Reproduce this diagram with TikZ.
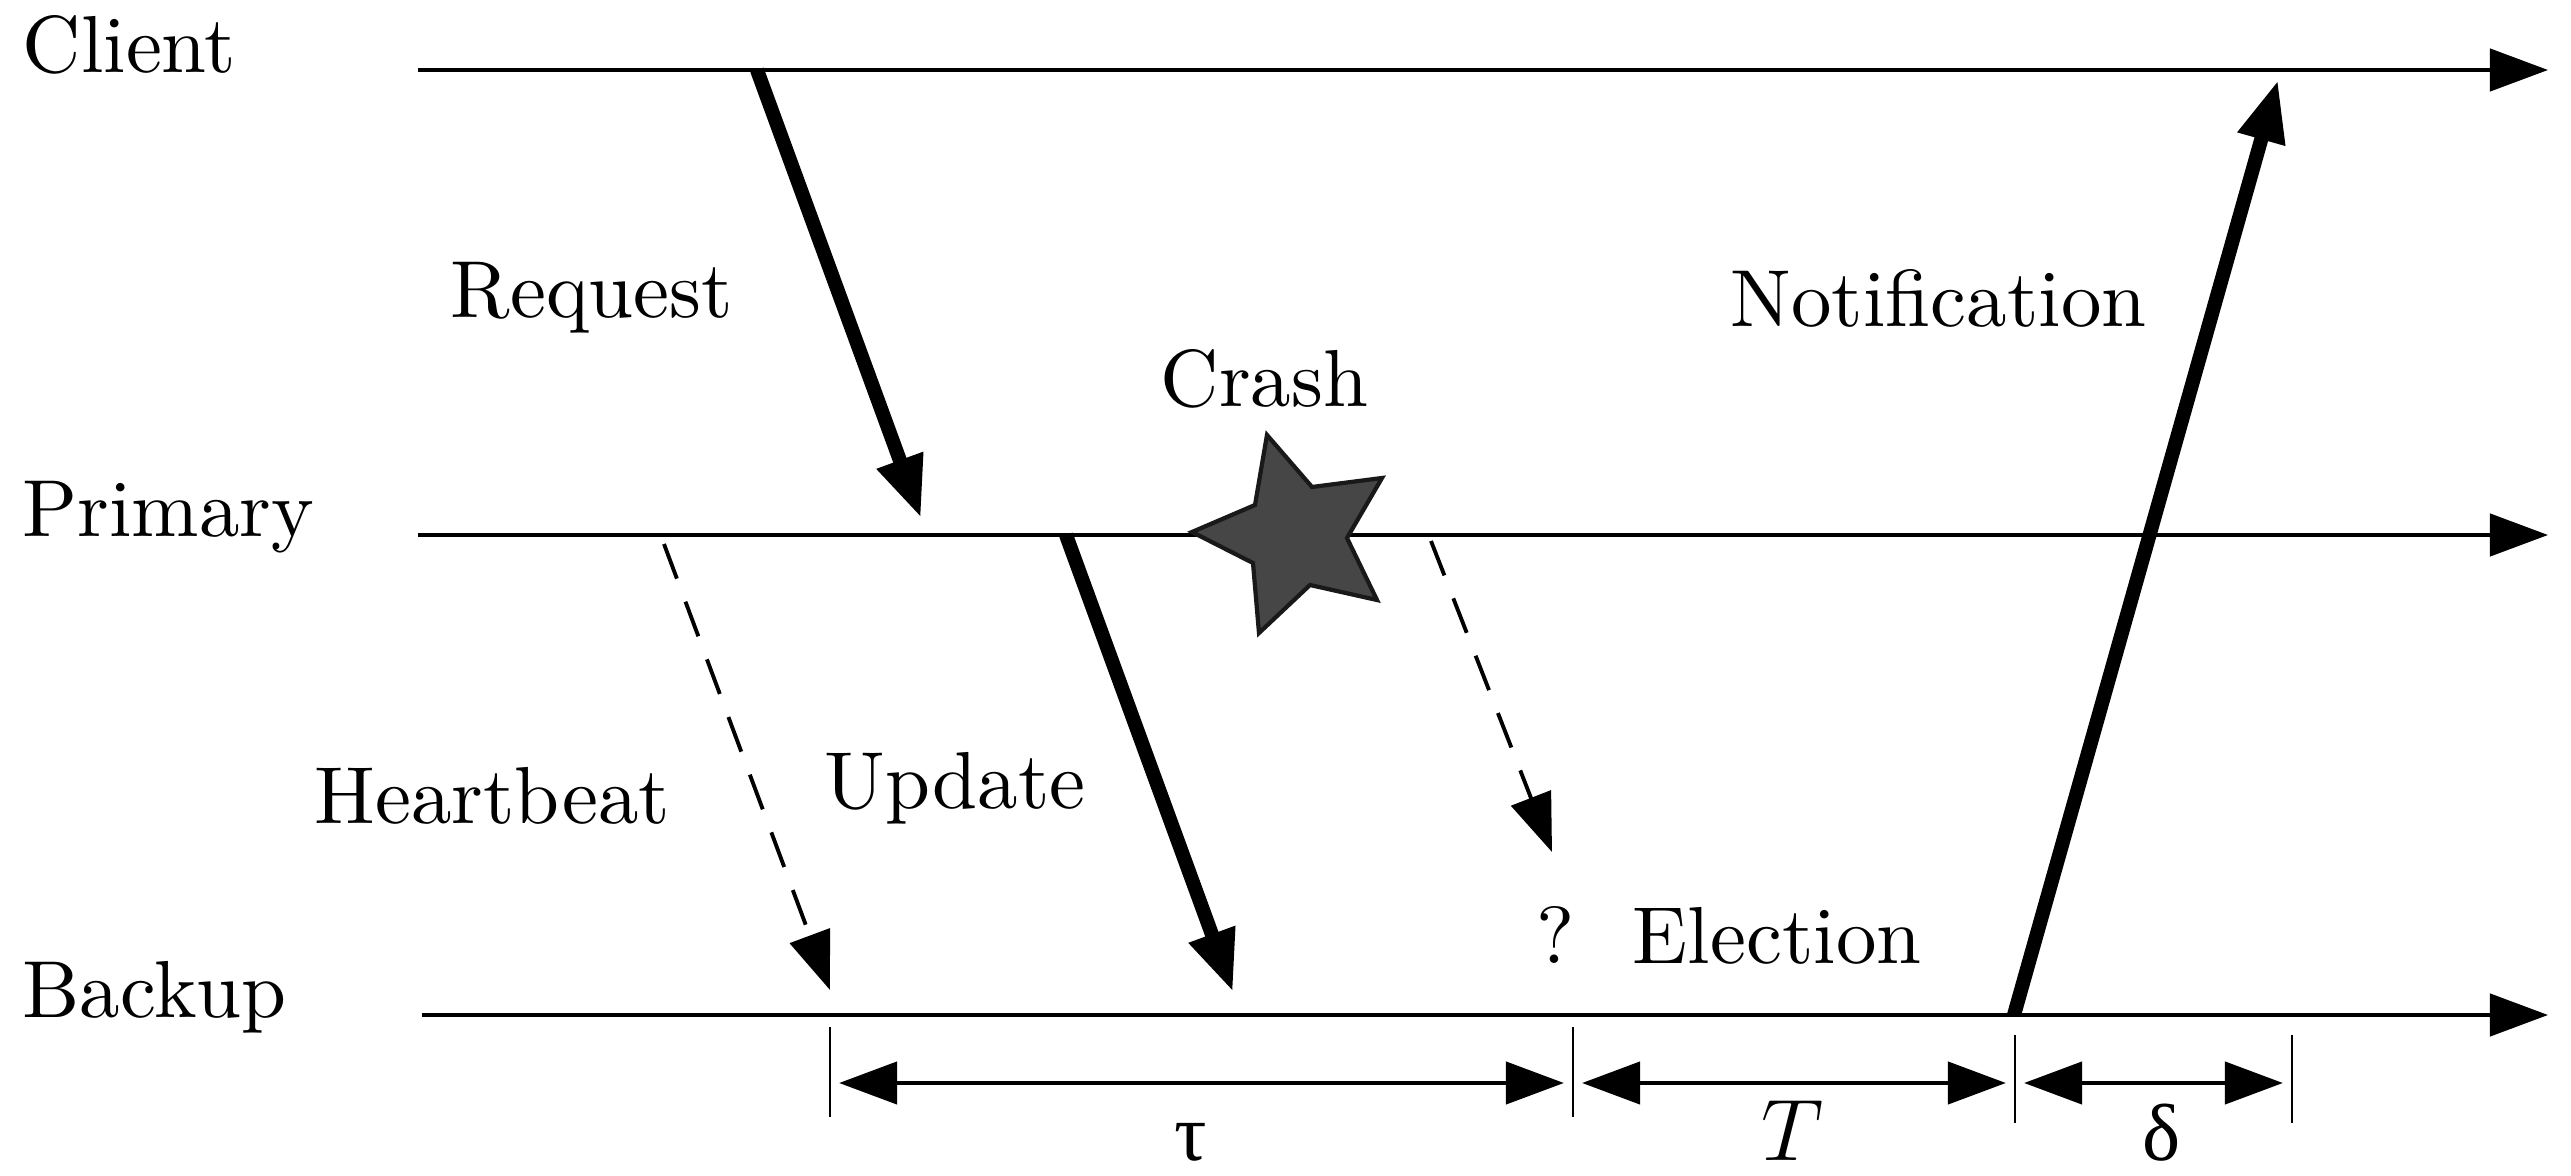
\documentclass[tikz,border=0pt]{standalone}
\usepackage{fontspec}
\setmainfont{lmroman10-regular.otf}
\newfontfamily\grk{Liberation Serif}
\usetikzlibrary{arrows.meta}
\tikzset{
  lbl/.style={inner sep=0pt, anchor=base west, font=\fontsize{23pt}{28pt}\selectfont},
  lblc/.style={inner sep=0pt, anchor=base, font=\fontsize{23pt}{28pt}\selectfont},
  timeline/.style={line width=1.1pt, -{Triangle[length=16.5pt,width=12pt]}},
  msg/.style={line width=4pt, -{Triangle[length=17.5pt,width=13pt]}},
  hbeat/.style={line width=1.1pt, dash pattern=on 10.5pt off 7pt, -{Triangle[length=16.5pt,width=12pt]}},
  dimline/.style={line width=1.1pt, {Triangle[length=16.5pt,width=12pt]}-{Triangle[length=16.5pt,width=12pt]}, shorten >=2.6pt, shorten <=2.6pt},
  tick/.style={line width=0.8pt},
}
\begin{document}
\begin{tikzpicture}[x=0.01cm,y=-0.01cm]
\useasboundingbox (0,0) rectangle (2571,1176);
% timelines
\coordinate (c0) at (418,70);   \coordinate (c1) at (2548,70);
\coordinate (p0) at (418,535);  \coordinate (p1) at (2548,535);
\coordinate (b0) at (422,1015); \coordinate (b1) at (2548,1015);
\draw[timeline] (c0) -- (c1);
\draw[timeline] (p0) -- (p1);
\draw[timeline] (b0) -- (b1);
% labels
\node[lbl] (client) at (22,73) {Client};
\node[lbl] (primary) at (22,537) {Primary};
\node[lbl] (backup) at (22,1017) {Backup};
\node[lbl] (request) at (450,318) {Request};
\node[lbl] (crash) at (1160,407) {Crash};
\node[lbl] (notif) at (1730,327) {Notification};
\node[lbl] (heart) at (314,823) {Heartbeat};
\node[lbl] (update) at (824,808) {Update};
\node[lblc] (q) at (1556,963) {?};
\node[lbl] (elect) at (1632,963) {Election};
% messages
\coordinate (rq0) at (757,70);   \coordinate (rq1) at (921,518);
\coordinate (up0) at (1066,535); \coordinate (up1) at (1233,992);
\coordinate (hb0) at (664,544);  \coordinate (hb1) at (830,990);
\coordinate (hc0) at (1431,541); \coordinate (hc1) at (1552,852);
\coordinate (nt0) at (2014,1015); \coordinate (nt1) at (2278,80);
\draw[msg] (rq0) -- (rq1);
\draw[msg] (up0) -- (up1);
\draw[msg] (nt0) -- (nt1);
\draw[hbeat] (hb0) -- (hb1);
\draw[hbeat] (hc0) -- (hc1);
% crash star
\filldraw[fill={rgb,255:red,70;green,70;blue,70}, draw=black!90, line width=1.2pt, line join=miter]
  (1267,435) -- (1312,487) -- (1382,478) -- (1347,538) -- (1377,600) -- (1310,585)
  -- (1259,633) -- (1253,563) -- (1192,532) -- (1255,505) -- cycle;
% dimension ticks
\coordinate (t1a) at (830,1027);  \coordinate (t1b) at (830,1117);
\coordinate (t2a) at (1573,1027); \coordinate (t2b) at (1573,1117);
\coordinate (t3a) at (2015,1035); \coordinate (t3b) at (2015,1123);
\coordinate (t4a) at (2292,1035); \coordinate (t4b) at (2292,1123);
\draw[tick] (t1a) -- (t1b);
\draw[tick] (t2a) -- (t2b);
\draw[tick] (t3a) -- (t3b);
\draw[tick] (t4a) -- (t4b);
\coordinate (d1) at (830,1083);
\coordinate (d2) at (1573,1083);
\coordinate (d3) at (2015,1083);
\coordinate (d4) at (2292,1083);
\draw[dimline] (d1) -- (d2);
\draw[dimline] (d2) -- (d3);
\draw[dimline] (d3) -- (d4);
\node[lblc] (tau) at (1191,1160) {\grk τ};
\node[lblc] (bigT) at (1793,1160) {$T$};
\node[lblc] (delta) at (2162,1160) {\grk δ};
\end{tikzpicture}
\end{document}
